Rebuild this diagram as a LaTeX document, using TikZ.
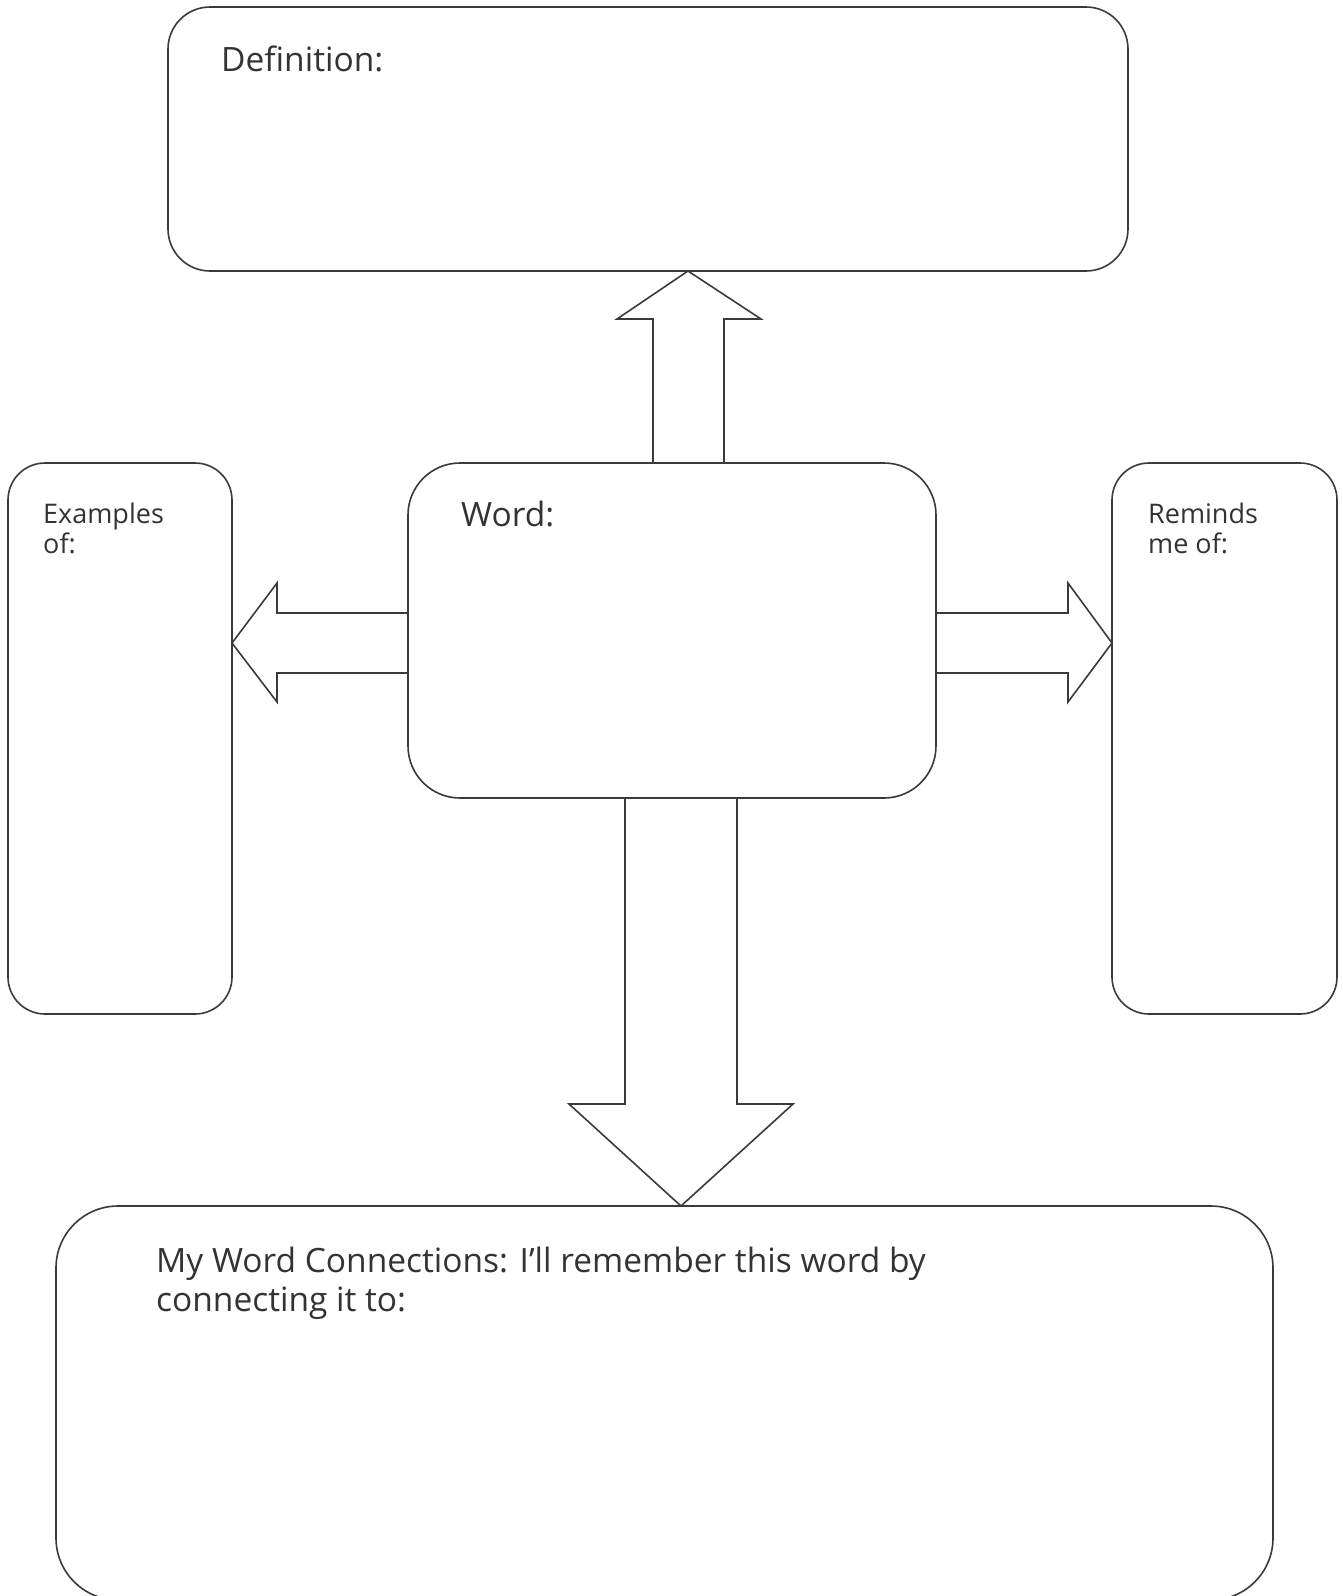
\documentclass[tikz,border=0pt]{standalone}
\usepackage{fontspec}
\setmainfont{Open Sans}
\definecolor{edge}{HTML}{3A3A3C}
\definecolor{ink}{HTML}{333336}
\tikzset{
  boxshape/.style={draw=edge, line width=1.6pt, fill=white, inner sep=0pt, outer sep=0pt, anchor=north west},
  blockarrow/.style={draw=edge, line width=1.6pt, fill=white, line join=miter},
  bigtext/.style={inner sep=0pt, anchor=base west, text=ink, font=\fontsize{33.5}{39}\selectfont, align=left},
  smalltext/.style={inner sep=0pt, anchor=base west, text=ink, font=\fontsize{27}{30}\selectfont, align=left}
}
\begin{document}
\begin{tikzpicture}[x=1pt, y=-1pt]
\useasboundingbox (0,0) rectangle (1342,1596);
% block arrows
\draw[blockarrow] (653,463) -- (653,319) -- (617,319) -- (688,271) -- (761,319) -- (724,319) -- (724,463);
\draw[blockarrow] (408,613) -- (277,613) -- (277,583) -- (232,643) -- (277,702) -- (277,673) -- (408,673);
\draw[blockarrow] (936,613) -- (1068,613) -- (1068,583) -- (1112,643) -- (1068,702) -- (1068,673) -- (936,673);
\draw[blockarrow] (625,798) -- (625,1104) -- (569,1104) -- (681,1206) -- (793,1104) -- (737,1104) -- (737,798);
% boxes
\node[boxshape, rounded corners=42pt, minimum width=960pt, minimum height=264pt] (def) at (168,7) {};
\node[boxshape, rounded corners=52pt, minimum width=528pt, minimum height=335pt] (word) at (408,463) {};
\node[boxshape, rounded corners=37pt, minimum width=224pt, minimum height=551pt] (ex) at (8,463) {};
\node[boxshape, rounded corners=37pt, minimum width=225pt, minimum height=551pt] (rem) at (1112,463) {};
\node[boxshape, rounded corners=62pt, minimum width=1217pt, minimum height=394pt] (conn) at (56,1206) {};
% texts (base anchor = last line baseline)
\node[bigtext] (deft) at (221,71) {Definition:};
\node[bigtext] (wordt) at (461,526) {Word:};
\node[smalltext] (ext) at (43,553) {Examples\\of:};
\node[smalltext] (remt) at (1148,553) {Reminds\\me of:};
\node[bigtext] (connt) at (156,1311) {My Word Connections: I’ll remember this word by\\connecting it to:};
\end{tikzpicture}
\end{document}
